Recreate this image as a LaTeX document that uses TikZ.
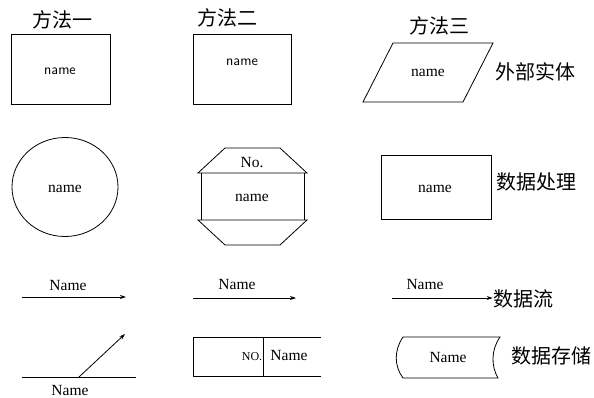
\documentclass[tikz,border=0pt]{standalone}
\usepackage{fontspec}
\setmainfont{Liberation Serif}
\newfontfamily\cjk{Noto Sans CJK SC}
\usetikzlibrary{arrows.meta}
\begin{document}
\begin{tikzpicture}[x=1pt,y=-1pt,line width=0.8pt,
  lbl/.style={font=\fontsize{15.5}{15.5}\selectfont, inner sep=0pt},
  sml/.style={font=\fontsize{12}{12}\selectfont, inner sep=0pt},
  cn/.style={font=\cjk\fontsize{20}{20}\selectfont, inner sep=0pt},
  arr/.style={-{Stealth[length=6pt,width=4pt]}}]
\useasboundingbox (0,0) rectangle (594,398);
% column titles
\node[cn] (t1) at (62,20) {方法一};
\node[cn] (t2) at (227,18) {方法二};
\node[cn] (t3) at (439,26) {方法三};
% row 1: external entity
\draw (11,34) rectangle (110,104);
\node[lbl,font=\sffamily\fontsize{14.5}{14.5}\selectfont] (n11) at (60,71) {name};
\draw (193,34) rectangle (291,104);
\node[lbl,font=\sffamily\fontsize{14.5}{14.5}\selectfont] (n12) at (242,62) {name};
\draw (393,43) -- (493,43) -- (463,102) -- (363,102) -- cycle;
\node[lbl] (n13) at (428,73) {name};
\node[cn] (c1) at (535,72) {外部实体};
% row 2: process
\draw (65,187) ellipse [x radius=53, y radius=49.5];
\node[lbl] (n21) at (65,189) {name};
\draw (198,173) -- (225,148) -- (280,148) -- (307,173) -- cycle;
\draw (198,220) -- (225,245) -- (280,245) -- (307,220) -- cycle;
\draw (201,173) -- (201,220) (304,173) -- (304,220);
\node[lbl] (no2) at (252,163) {No.};
\node[lbl] (n22) at (252,198) {name};
\draw (381,155) rectangle (491,219);
\node[lbl] (n23) at (435,189) {name};
\node[cn] (c2) at (536,182) {数据处理};
% row 3: data flow
\coordinate (a1s) at (22,297); \coordinate (a1e) at (126,297);
\draw[arr] (a1s) -- (a1e);
\node[lbl] (l31) at (68,286) {Name};
\coordinate (a2s) at (193,298); \coordinate (a2e) at (296,298);
\draw[arr] (a2s) -- (a2e);
\node[lbl] (l32) at (237,284) {Name};
\node[cn] (c3) at (523,299) {数据流};
\coordinate (a3s) at (392,298);
\draw[arr] (a3s) -- (a3s -| c3.west);
\node[lbl] (l33) at (425,284) {Name};
% row 4: data store
\coordinate (h1) at (22,377); \coordinate (h2) at (136,377);
\coordinate (b1) at (79,377); \coordinate (b2) at (125,334);
\draw (h1) -- (h2);
\draw[arr] (b1) -- (b2);
\node[lbl] (l41) at (70,390) {Name};
\draw (321,337) -- (193,337) -- (193,376) -- (321,376);
\draw (263,337) -- (263,376);
\node[sml] (no4) at (252,357) {NO.};
\node[lbl] (l42) at (289,355) {Name};
\draw (403,337) -- (500,337) .. controls (491,350) and (491,366) .. (498,378) -- (403,378) .. controls (394,366) and (394,350) .. cycle;
\node[lbl] (l43) at (448,357) {Name};
\node[cn] (c4) at (551,356) {数据存储};
\end{tikzpicture}
\end{document}
